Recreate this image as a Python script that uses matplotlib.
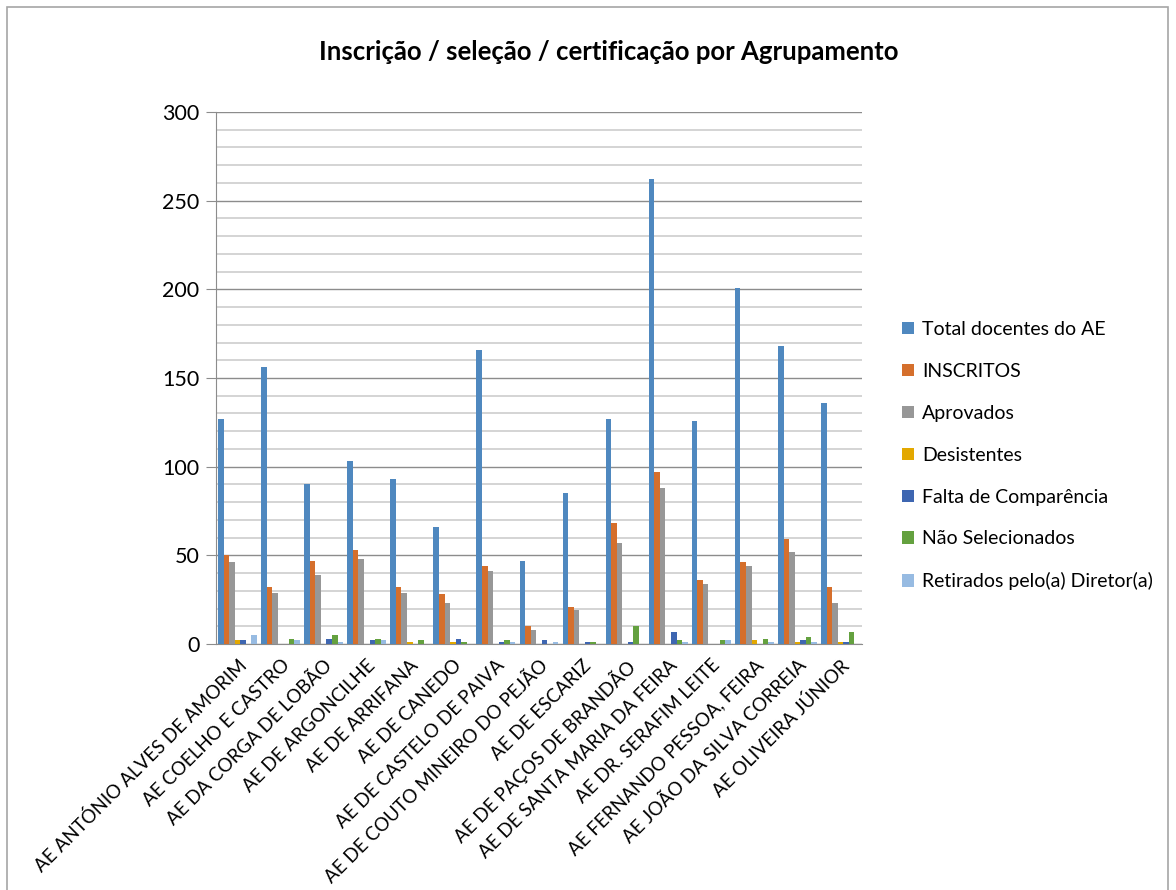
import numpy as np
import matplotlib
matplotlib.use("Agg")
import matplotlib.pyplot as plt
from matplotlib.patches import Rectangle
from matplotlib.ticker import MultipleLocator

plt.rcParams['font.family'] = ['Lato', 'DejaVu Sans']

# ---------- dados ----------
agrupamentos = [
    "AE ANTÓNIO ALVES DE AMORIM", "AE COELHO E CASTRO", "AE DA CORGA DE LOBÃO",
    "AE DE ARGONCILHE", "AE DE ARRIFANA", "AE DE CANEDO", "AE DE CASTELO DE PAIVA",
    "AE DE COUTO MINEIRO DO PEJÃO", "AE DE ESCARIZ", "AE DE PAÇOS DE BRANDÃO",
    "AE DE SANTA MARIA DA FEIRA", "AE DR. SERAFIM LEITE", "AE FERNANDO PESSOA, FEIRA",
    "AE JOÃO DA SILVA CORREIA", "AE OLIVEIRA JÚNIOR",
]
total_docentes = [127, 156, 90, 103, 93, 66, 166, 47, 85, 127, 262, 126, 201, 168, 136]
inscritos = [50, 32, 47, 53, 32, 28, 44, 10, 21, 68, 97, 36, 46, 59, 32]
aprovados = [46, 29, 39, 48, 29, 23, 41, 8, 19, 57, 88, 34, 44, 52, 23]
desistentes = [2, 0, 0, 0, 1, 1, 0, 0, 0, 0, 0, 0, 2, 1, 1]
falta_comparencia = [2, 0, 3, 2, 0, 3, 1, 2, 1, 1, 7, 0, 0, 2, 1]
nao_selecionados = [0, 3, 5, 3, 2, 1, 2, 0, 1, 10, 2, 2, 3, 4, 7]
retirados = [5, 2, 1, 2, 0, 0, 1, 1, 0, 0, 1, 2, 1, 1, 0]

series = [
    ("Total docentes do AE", total_docentes, "#4F88BF"),
    ("INSCRITOS", inscritos, "#D56F2C"),
    ("Aprovados", aprovados, "#979797"),
    ("Desistentes", desistentes, "#E3A800"),
    ("Falta de Comparência", falta_comparencia, "#3E66B1"),
    ("Não Selecionados", nao_selecionados, "#64A13F"),
    ("Retirados pelo(a) Diretor(a)", retirados, "#97BBE2"),
]

# ---------- figura ----------
fig = plt.figure(figsize=(11.76, 8.9), dpi=100)
fig.patches.append(Rectangle((7 / 1176, -0.01), 1161 / 1176, 1 - 7 / 890 + 0.01,
                             transform=fig.transFigure, fill=False,
                             edgecolor="#A6A6A6", linewidth=1.2))

ax = fig.add_axes([216 / 1176, 1 - 644 / 890, 646 / 1176, 532 / 890])

x = np.arange(len(agrupamentos))
n = len(series)
largura = 1 / (n + 0.75)
for i, (nome, vals, cor) in enumerate(series):
    ax.bar(x + (i - (n - 1) / 2) * largura, vals, width=largura, color=cor,
           label=nome, zorder=3)

ax.set_xlim(-0.5, len(agrupamentos) - 0.5)
ax.set_ylim(0, 300)
ax.yaxis.set_major_locator(MultipleLocator(50))
ax.yaxis.set_minor_locator(MultipleLocator(10))
ax.grid(axis="y", which="major", color="#8C8C8C", linewidth=1.0, zorder=0)
ax.grid(axis="y", which="minor", color="#D4D4D4", linewidth=1.4, zorder=0)
ax.set_axisbelow(True)

for s in ["top", "right"]:
    ax.spines[s].set_visible(False)
ax.spines["left"].set_color("#8C8C8C")
ax.spines["bottom"].set_color("#8C8C8C")
ax.tick_params(axis="y", which="major", length=7, color="#8C8C8C", labelsize=15.5, pad=5)
ax.tick_params(axis="y", which="minor", length=0)
ax.tick_params(axis="x", length=0, pad=9)

ax.set_xticks(x)
ax.set_xticklabels(agrupamentos, rotation=45, ha="right", rotation_mode="anchor",
                   fontsize=13.5)

fig.text(609 / 1176, 1 - 52 / 890, "Inscrição / seleção / certificação por Agrupamento",
         ha="center", va="center", fontsize=18.5, fontweight="bold")

fig.legend(loc="upper left", bbox_to_anchor=(902 / 1176, 1 - 321 / 890),
           frameon=False, fontsize=14, handlelength=0.6, handleheight=0.6,
           handletextpad=0.45, labelspacing=1.28, borderpad=0, borderaxespad=0)

fig.savefig("out.png", dpi=100)
